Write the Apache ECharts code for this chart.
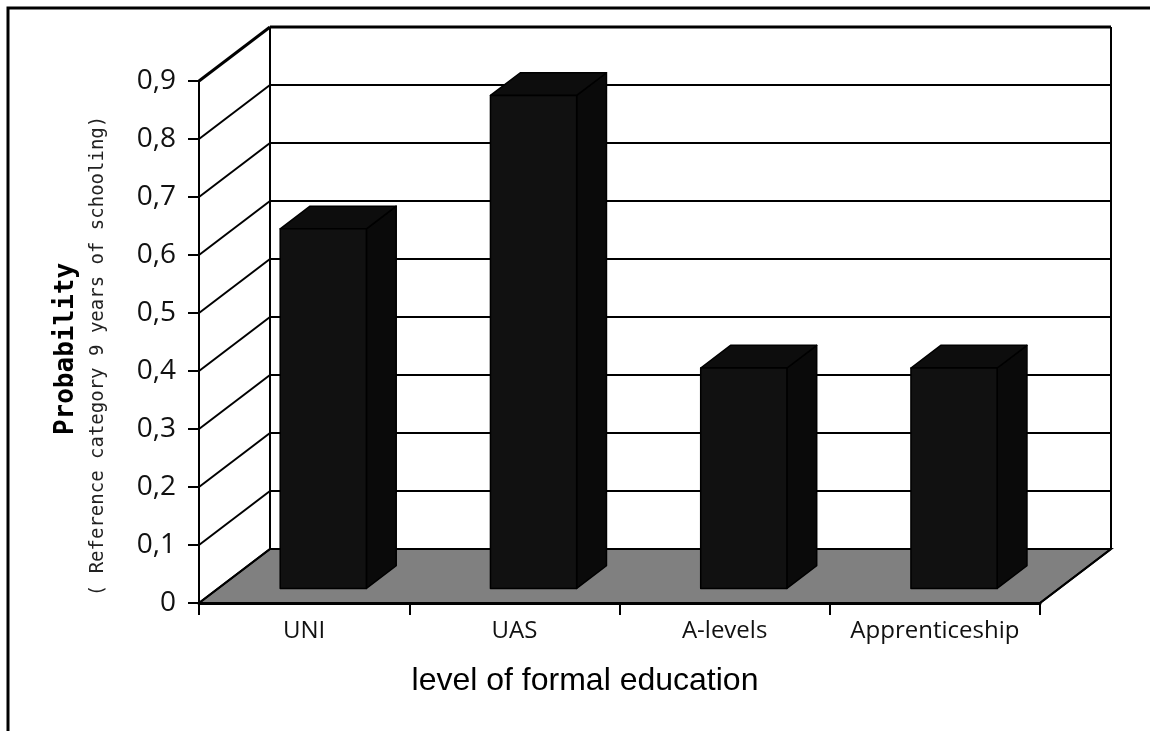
<!DOCTYPE html>
<html><head><meta charset="utf-8">
<script src="https://cdn.jsdelivr.net/npm/echarts@6/dist/echarts.min.js"></script>
<style>html,body{margin:0;padding:0;background:#fff}#c{width:1150px;height:731px}</style>
</head><body><div id="c"></div>
<script>
const categories = ['UNI', 'UAS', 'A-levels', 'Apprenticeship'];
const probabilities = [0.62, 0.85, 0.38, 0.38];
const yTicks = [0, 0.1, 0.2, 0.3, 0.4, 0.5, 0.6, 0.7, 0.8, 0.9];
const xAxisTitle = 'level of formal education';
const yAxisTitle = 'Probability';
const yAxisSubtitle = '( Reference category 9 years of schooling)';

const DEPTH = [71, -54];
const BAR_FRONT = 0.27;
const BAR_BACK = 0.69;
const BAR_WIDTH = 0.41;

const chart = echarts.init(document.getElementById('c'), null, {renderer: 'canvas'});

function ln(x1, y1, x2, y2, w) {
  return {type: 'line', shape: {x1, y1, x2, y2}, style: {stroke: '#000', lineWidth: w}};
}

function wallsRender(params, api) {
  const cs = params.coordSys;
  const x0 = cs.x, x1 = cs.x + cs.width, yb = cs.y + cs.height;
  const dx = DEPTH[0], dy = DEPTH[1];
  const ch = [];
  ch.push({type: 'polygon', shape: {points: [[x0, yb], [x1, yb], [x1 + dx, yb + dy], [x0 + dx, yb + dy]]},
    style: {fill: '#808080', stroke: '#000', lineWidth: 2}});
  const last = yTicks[yTicks.length - 1];
  yTicks.forEach(t => {
    const y = api.coord([0, t])[1];
    const w = t === last ? 3 : 2;
    if (t > 0) ch.push(ln(x0 + dx, y + dy, x1 + dx, y + dy, w));
    ch.push(ln(x0, y, x0 + dx, y + dy, w));
  });
  const yTop = api.coord([0, last])[1];
  ch.push(ln(x0 + dx, yTop + dy, x0 + dx, yb + dy, 2));
  ch.push(ln(x1 + dx, yTop + dy, x1 + dx, yb + dy, 2));
  ch.push(ln(x1, yb, x1 + dx, yb + dy, 2));
  return {type: 'group', children: ch};
}

function barRender(params, api) {
  const i = api.value(0), v = api.value(1);
  const base = api.coord([i, 0]);
  const top = api.coord([i, v]);
  const band = api.size([1, 0])[0];
  const w = band * BAR_WIDTH;
  const fx = DEPTH[0] * BAR_FRONT, fy = DEPTH[1] * BAR_FRONT;
  const bx = DEPTH[0] * (BAR_BACK - BAR_FRONT), by = DEPTH[1] * (BAR_BACK - BAR_FRONT);
  const L = base[0] - w / 2 + fx, R = base[0] + w / 2 + fx;
  const B = base[1] + fy, T = top[1] + fy;
  const st = c => ({fill: c, stroke: '#000', lineWidth: 1.5, lineJoin: 'round'});
  return {type: 'group', children: [
    {type: 'polygon', shape: {points: [[R, B], [R, T], [R + bx, T + by], [R + bx, B + by]]}, style: st('#0a0a0a')},
    {type: 'polygon', shape: {points: [[L, T], [R, T], [R + bx, T + by], [L + bx, T + by]]}, style: st('#0d0d0d')},
    {type: 'rect', shape: {x: L, y: T, width: R - L, height: B - T}, style: st('#111111')}
  ]};
}

const option = {
  animation: false,
  backgroundColor: '#fff',
  grid: {left: 199, right: 110, top: 81, bottom: 128},
  xAxis: {
    type: 'category', data: categories, boundaryGap: true, z: 5,
    axisLine: {show: true, lineStyle: {color: '#000', width: 3}},
    axisTick: {show: true, interval: 0, length: 12, lineStyle: {color: '#000', width: 2}},
    axisLabel: {interval: 0, margin: 16, color: '#111', fontFamily: 'Open Sans', fontSize: 24, hideOverlap: false},
    splitLine: {show: false}
  },
  yAxis: {
    type: 'value', min: yTicks[0], max: yTicks[yTicks.length - 1], interval: 0.1, z: 5,
    axisLine: {show: true, lineStyle: {color: '#000', width: 2}},
    axisTick: {show: true, length: 11, lineStyle: {color: '#000', width: 2}},
    axisLabel: {margin: 23, color: '#111', fontFamily: 'Open Sans', fontSize: 28,
      formatter: v => v === 0 ? '0' : v.toFixed(1).replace('.', ',')},
    splitLine: {show: false}
  },
  series: [
    {type: 'custom', z: 1, data: [[0, 0]], renderItem: wallsRender, silent: true},
    {type: 'custom', z: 3, data: categories.map((c, i) => [i, probabilities[i]]), renderItem: barRender}
  ],
  graphic: [
    {type: 'rect', z: 10, shape: {x: 8, y: 8, width: 1300, height: 900}, style: {fill: 'none', stroke: '#000', lineWidth: 3}},
    {type: 'text', x: 585, y: 681, style: {text: xAxisTitle, font: '32px "Liberation Sans", Arial, sans-serif', fill: '#000',
      align: 'center', verticalAlign: 'middle', textAlign: 'center', textVerticalAlign: 'middle'}},
    {type: 'text', x: 66, y: 349, rotation: Math.PI / 2, style: {text: yAxisTitle, font: 'bold 26px "DejaVu Sans Mono", monospace', fill: '#000',
      align: 'center', verticalAlign: 'middle', textAlign: 'center', textVerticalAlign: 'middle'}},
    {type: 'text', x: 98, y: 356, rotation: Math.PI / 2, style: {text: yAxisSubtitle, font: '19px "DejaVu Sans Mono", monospace', fill: '#222',
      align: 'center', verticalAlign: 'middle', textAlign: 'center', textVerticalAlign: 'middle'}}
  ]
};
chart.setOption(option);
</script>
</body></html>
